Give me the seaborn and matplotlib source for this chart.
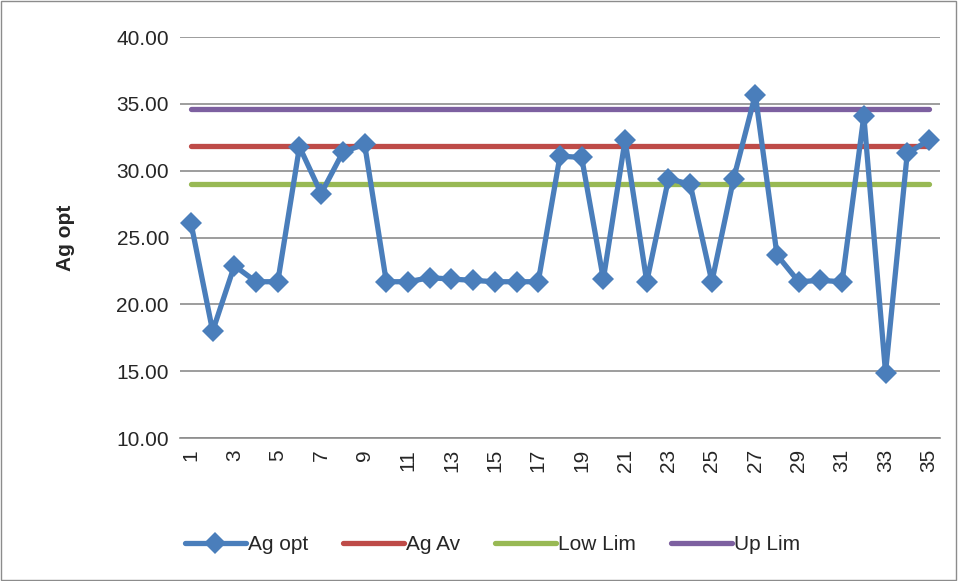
import numpy as np
import pandas as pd
import seaborn as sns
import matplotlib.pyplot as plt
from matplotlib.patches import Rectangle

# dati
samples = list(range(1, 36))
ag_opt = [26.1, 18.0, 22.9, 21.7, 21.7, 31.8, 28.3, 31.4, 32.0, 21.7,
          21.7, 22.0, 21.9, 21.8, 21.7, 21.7, 21.7, 31.1, 31.0, 21.9,
          32.3, 21.7, 29.4, 29.0, 21.7, 29.4, 35.7, 23.7, 21.7, 21.8,
          21.7, 34.1, 14.9, 31.3, 32.3]
ag_av = 31.85
low_lim = 29.05
up_lim = 34.65

df = pd.DataFrame({"Sample": samples, "Ag opt": ag_opt})
df["Ag Av"] = ag_av
df["Low Lim"] = low_lim
df["Up Lim"] = up_lim

sns.set_style("white")
plt.rcParams["font.family"] = ["Liberation Sans", "DejaVu Sans"]

fig = plt.figure(figsize=(9.58, 5.81), dpi=100)
ax = fig.add_axes([0.188, 0.246, 0.793, 0.69])

colors = {"Ag opt": "#4a7ebb", "Ag Av": "#be4b48", "Low Lim": "#98b954", "Up Lim": "#7d60a0"}

for col in ["Ag Av", "Low Lim", "Up Lim"]:
    sns.lineplot(data=df, x="Sample", y=col, ax=ax, color=colors[col], lw=3.8,
                 label=col, solid_capstyle="round", zorder=3)
sns.lineplot(data=df, x="Sample", y="Ag opt", ax=ax, color=colors["Ag opt"], lw=3.8,
             marker="D", markersize=11, markeredgewidth=0, label="Ag opt", zorder=4)

ax.set_xlim(0.5, 35.5)
ax.set_ylim(10, 40)
ax.set_yticks(np.arange(10, 41, 5))
ax.set_yticklabels([f"{v:.2f}" for v in np.arange(10, 41, 5)], fontsize=15)
ax.set_xticks(samples[::2])
ax.set_xticklabels([str(s) for s in samples[::2]], rotation=90, fontsize=15)
ax.tick_params(axis="both", length=0, pad=8)
ax.set_xlabel("")
ax.set_ylabel("Ag opt", fontsize=15, fontweight="bold", labelpad=30)
ax.yaxis.grid(True, color="#8c8c8c", lw=1.2)
ax.set_axisbelow(True)
for s in ["top", "right", "left"]:
    ax.spines[s].set_visible(False)
ax.spines["bottom"].set_color("#8c8c8c")
ax.spines["bottom"].set_linewidth(1.2)

h, l = ax.get_legend_handles_labels()
order = [3, 0, 1, 2]
ax.legend([h[i] for i in order], [l[i] for i in order], loc="center",
          bbox_to_anchor=(0.514, 0.062), bbox_transform=fig.transFigure, ncol=4,
          frameon=False, fontsize=15, handlelength=2.9, handletextpad=0.1,
          columnspacing=1.7)

fig.patches.append(Rectangle((0.001, 0.001), 0.997, 0.997, transform=fig.transFigure,
                             fill=False, edgecolor="#8c8c8c", lw=1))

plt.savefig("out.png", dpi=100)
